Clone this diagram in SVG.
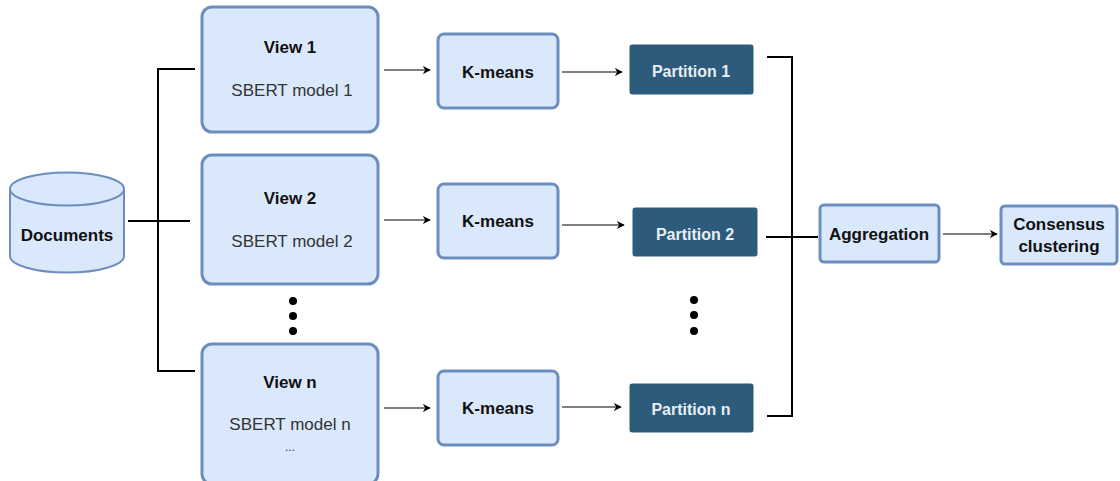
<svg xmlns="http://www.w3.org/2000/svg" width="1120" height="481" viewBox="0 0 1120 481">
<defs>
<marker id="ah" viewBox="0 0 10 10" refX="9" refY="5" markerWidth="8" markerHeight="8" markerUnits="userSpaceOnUse" orient="auto"><path d="M0,0 L10,5 L0,10 L3,5 Z" fill="#000"/></marker>
<style>
.box{fill:#dae8fc;stroke:#6c8ebf;stroke-width:3}
.part{fill:#2d5b7b;stroke:#ffffff;stroke-width:1}
.t{font-family:"Liberation Sans",Arial,sans-serif;font-size:17px;text-anchor:middle}
.b{font-weight:bold;fill:#111}
.r{fill:#333}
.w{font-weight:bold;fill:#e8eef4;font-size:16px}
.ln{stroke:#000;stroke-width:2;fill:none}
.ar{stroke:#000;stroke-width:1.2;fill:none;marker-end:url(#ah)}
</style>
</defs>
<rect width="1120" height="481" fill="#fff"/>
<g id="connectors">
<path class="ln" d="M128,221 H190"/>
<path class="ln" d="M195,69 H158 V371 H195"/>
<path class="ar" d="M384,70 H430"/>
<path class="ar" d="M384,220 H430"/>
<path class="ar" d="M384,408 H430"/>
<path class="ar" d="M562,72 H622"/>
<path class="ar" d="M562,225 H624"/>
<path class="ar" d="M562,407 H621"/>
<path class="ln" d="M767,57 H792 V416 H767"/>
<path class="ln" d="M766,237 H818"/>
<path class="ar" d="M943,234 H997"/>
</g>
<g id="documents">
<path class="box" d="M10,189 A57,16.5 0 0 1 124,189 V256 A57,16.5 0 0 1 10,256 Z" style="stroke-width:2"/>
<path class="box" d="M10,189 A57,16.5 0 0 0 124,189" style="fill:none;stroke-width:2"/>
<text class="t b" x="67" y="241">Documents</text>
</g>
<g id="view1">
<rect class="box" x="202" y="7" width="176" height="125" rx="10"/>
<text class="t b" x="290" y="53">View 1</text>
<text class="t r" x="292" y="96">SBERT model 1</text>
</g>
<g id="view2">
<rect class="box" x="202" y="155" width="176" height="129" rx="10"/>
<text class="t b" x="290" y="204">View 2</text>
<text class="t r" x="292" y="247">SBERT model 2</text>
</g>
<g id="viewdots">
<circle cx="293" cy="301" r="4"/><circle cx="293" cy="316" r="4"/><circle cx="293" cy="331" r="4"/>
</g>
<g id="viewn">
<rect class="box" x="202" y="344" width="176" height="140" rx="10"/>
<text class="t b" x="290" y="388">View n</text>
<text class="t r" x="290" y="430">SBERT model n</text>
<text class="t r" x="290" y="451" style="font-size:12px">...</text>
</g>
<g id="kmeans1">
<rect class="box" x="438" y="34" width="120" height="74" rx="6"/>
<text class="t b" x="498" y="78">K-means</text>
</g>
<g id="kmeans2">
<rect class="box" x="438" y="184" width="120" height="74" rx="6"/>
<text class="t b" x="498" y="227">K-means</text>
</g>
<g id="kmeansn">
<rect class="box" x="438" y="371" width="120" height="74" rx="6"/>
<text class="t b" x="498" y="414">K-means</text>
</g>
<g id="partition1">
<rect class="part" x="629" y="44" width="125" height="51" rx="3"/>
<text class="t w" x="691" y="77">Partition 1</text>
</g>
<g id="partition2">
<rect class="part" x="632" y="207" width="126" height="50" rx="3"/>
<text class="t w" x="695" y="240">Partition 2</text>
</g>
<g id="partdots">
<circle cx="694" cy="300" r="4"/><circle cx="694" cy="315" r="4"/><circle cx="694" cy="331" r="4"/>
</g>
<g id="partitionn">
<rect class="part" x="629" y="383" width="125" height="50" rx="3"/>
<text class="t w" x="691" y="415">Partition n</text>
</g>
<g id="aggregation">
<rect class="box" x="820" y="205" width="119" height="57" rx="4"/>
<text class="t b" x="879" y="240">Aggregation</text>
</g>
<g id="consensus">
<rect class="box" x="1001" y="206" width="116" height="58" rx="4"/>
<text class="t b" x="1059" y="230">Consensus</text>
<text class="t b" x="1059" y="252">clustering</text>
</g>
</svg>
